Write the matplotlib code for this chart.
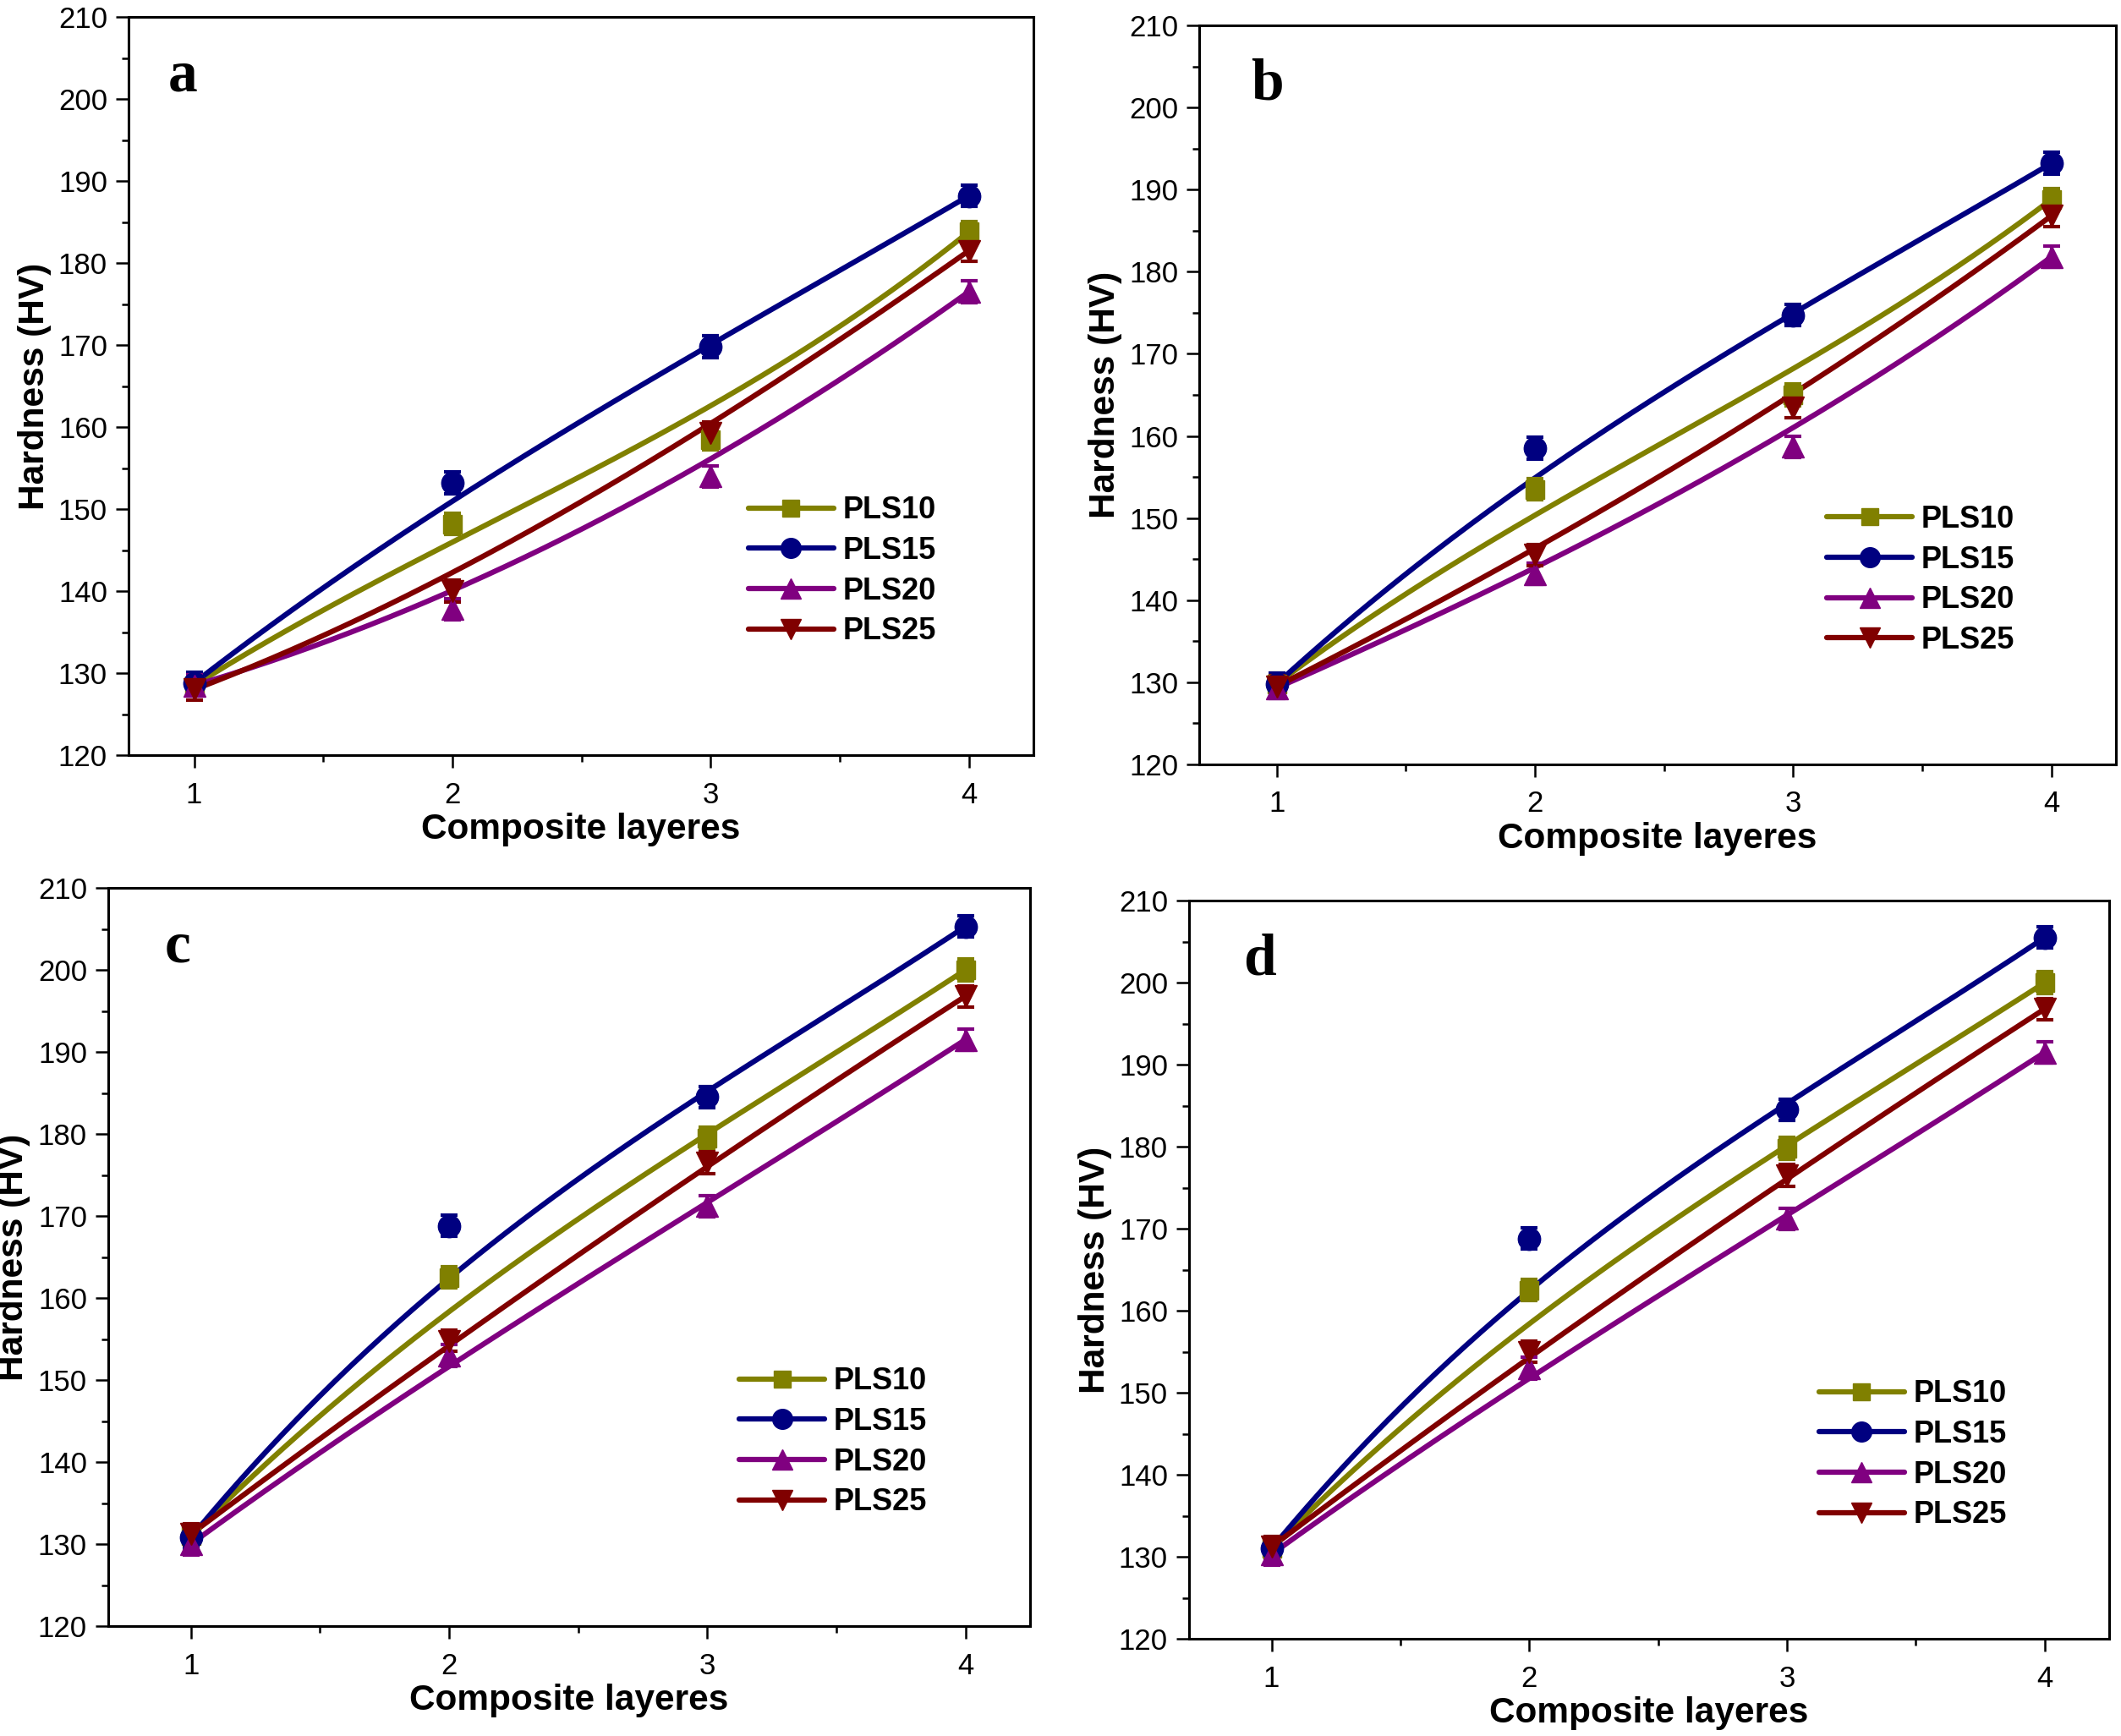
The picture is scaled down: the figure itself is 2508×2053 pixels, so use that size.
import numpy as np
import matplotlib.pyplot as plt
from matplotlib.lines import Line2D
from matplotlib.ticker import MultipleLocator

plt.rcParams["font.family"] = ["Liberation Sans", "DejaVu Sans"]

# ======================= data ======================= #
layers = [1, 2, 3, 4]
series_names = ["PLS10", "PLS15", "PLS20", "PLS25"]

# panel a
a_pls10 = [128.5, 148.2, 158.5, 183.8]
a_pls15 = [128.8, 153.2, 169.8, 188.2]
a_pls20 = [128.5, 137.8, 154.0, 176.5]
a_pls25 = [128.0, 140.0, 159.3, 181.5]

# panel b
b_pls10 = [129.8, 153.5, 165.0, 188.8]
b_pls15 = [129.8, 158.5, 174.7, 193.2]
b_pls20 = [129.3, 143.2, 158.7, 181.8]
b_pls25 = [129.5, 145.5, 163.5, 186.8]

# panel c
c_pls10 = [131.0, 162.5, 179.5, 200.0]
c_pls15 = [130.8, 168.8, 184.5, 205.3]
c_pls20 = [130.0, 153.0, 171.2, 191.5]
c_pls25 = [131.2, 154.8, 176.5, 196.8]

# panel d
d_pls10 = [131.0, 162.5, 179.8, 200.0]
d_pls15 = [131.0, 168.8, 184.5, 205.5]
d_pls20 = [130.3, 153.0, 171.2, 191.5]
d_pls25 = [131.2, 155.0, 176.5, 196.8]

# error bars (HV)
err = [1.3, 1.3, 1.3, 1.3]

# ======================= style ======================= #
colors = ["#808000", "#000080", "#800080", "#800000"]
markers = ["s", "o", "^", "v"]
msizes = [16, 19, 19, 19]

fig = plt.figure(figsize=(25.08, 20.53), dpi=100)

# tag, data, axes rect, left x limit, x of panel letter
panels = [
    ("a", [a_pls10, a_pls15, a_pls20, a_pls25], [0.0606, 0.5650, 0.4266, 0.4252], 0.746, 0.060),
    ("b", [b_pls10, b_pls15, b_pls20, b_pls25], [0.5654, 0.5597, 0.4322, 0.4257], 0.70, 0.074),
    ("c", [c_pls10, c_pls15, c_pls20, c_pls25], [0.0510, 0.0633, 0.4346, 0.4252], 0.68, 0.075),
    ("d", [d_pls10, d_pls15, d_pls20, d_pls25], [0.5606, 0.0560, 0.4338, 0.4252], 0.68, 0.077),
]


def bspline(x, y, n=200):
    # Origin-style B-spline connection: clamped cubic through the end points
    t = np.linspace(0, 1, n)
    basis = [(1 - t) ** 3, 3 * (1 - t) ** 2 * t, 3 * (1 - t) * t ** 2, t ** 3]
    xs = sum(b * xi for b, xi in zip(basis, x))
    ys = sum(b * yi for b, yi in zip(basis, y))
    return xs, ys


for tag, data, rect, xleft, tag_x in panels:
    ax = fig.add_axes(rect)

    handles = []
    for vals, name, col, mk, ms in zip(data, series_names, colors, markers, msizes):
        xs, ys = bspline(layers, vals)
        ax.plot(xs, ys, color=col, lw=4.5, solid_capstyle="round", zorder=2)
        ax.errorbar(layers, vals, yerr=err, fmt=mk, color=col, ms=ms,
                    elinewidth=3, capsize=7, capthick=3, zorder=3)
        handles.append(Line2D([], [], color=col, lw=4.5, marker=mk, ms=ms - 2,
                              solid_capstyle="round", label=name))

    ax.set_xlim(xleft, 4.25)
    ax.set_ylim(120, 210)
    ax.xaxis.set_major_locator(MultipleLocator(1))
    ax.xaxis.set_minor_locator(MultipleLocator(0.5))
    ax.yaxis.set_major_locator(MultipleLocator(10))
    ax.yaxis.set_minor_locator(MultipleLocator(5))
    ax.tick_params(which="both", direction="out", top=False, right=False,
                   width=1.8, labelsize=25)
    ax.tick_params(which="major", length=11)
    ax.tick_params(which="minor", length=6)
    ax.tick_params(axis="x", pad=11)
    ax.tick_params(axis="y", pad=7)
    for sp in ax.spines.values():
        sp.set_linewidth(2.2)

    ax.set_xlabel("Composite layeres", fontsize=30.5, fontweight="bold", labelpad=3)
    ax.set_ylabel("Hardness (HV)", fontsize=30.5, fontweight="bold", labelpad=6)

    ax.text(tag_x, 0.90, tag, transform=ax.transAxes, ha="center", va="baseline",
            fontsize=50, fontweight="bold", family=["Liberation Serif", "DejaVu Serif"])

    ax.legend(handles=handles, loc="upper left", bbox_to_anchor=(0.668, 0.372),
              frameon=False, borderpad=0, handlelength=2.8, handletextpad=0.3,
              labelspacing=0.35, prop={"weight": "bold", "size": 26})

fig.savefig("out.png", dpi=100)
